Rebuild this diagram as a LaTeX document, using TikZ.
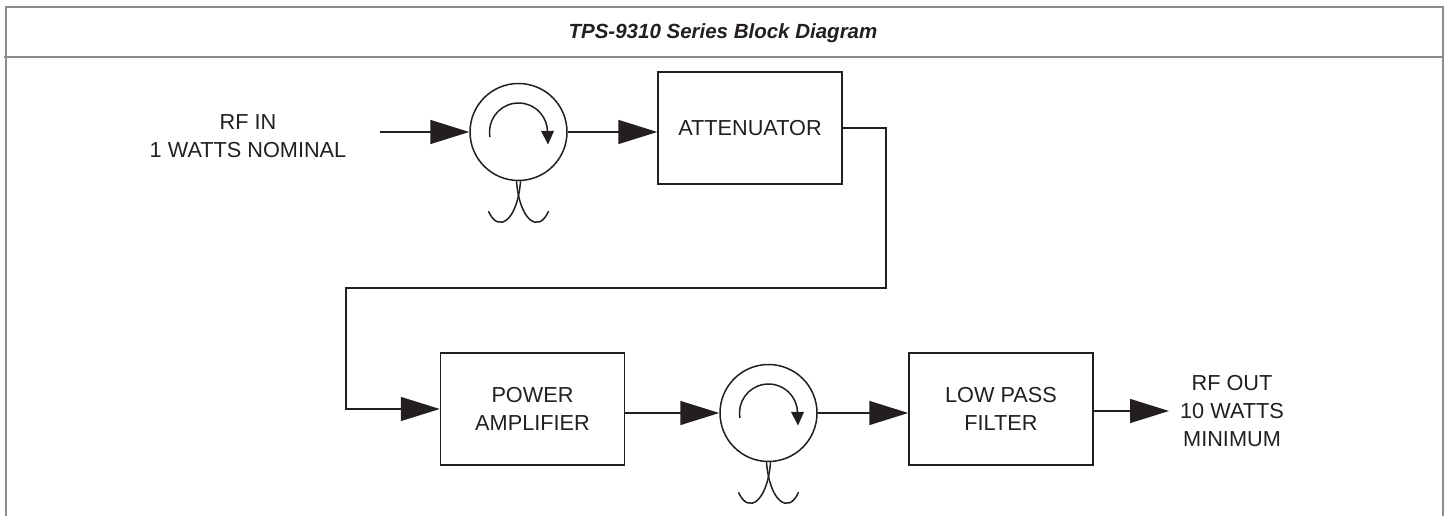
\documentclass[tikz,border=0pt]{standalone}
\usepackage{fontspec}
\setmainfont{Liberation Sans}
\usetikzlibrary{arrows.meta,calc}
\definecolor{ink}{HTML}{231F20}
\definecolor{framegray}{HTML}{8C8C8C}
\newcommand\bodyfont{\fontsize{21.7}{28}\selectfont}
\newcommand\circtail[1]{%
  \draw[ln] ($(#1.south)+(2,0)$) .. controls ($(#1.south)+(-1,-39)$) and ($(#1.south)+(-20,-53)$) .. ($(#1.south)+(-30,-30)$);
  \draw[ln] ($(#1.south)+(-2,0)$) .. controls ($(#1.south)+(1,-39)$) and ($(#1.south)+(20,-53)$) .. ($(#1.south)+(30,-30)$);
  \draw[ln] ($(#1.center)+(190:29)$) arc[start angle=190, end angle=0, radius=29];
  \fill[ink] ($(#1.center)+(22.5,1)$) -- ($(#1.center)+(35.5,1)$) -- ($(#1.center)+(29.5,-12.5)$) -- cycle;
}
\begin{document}
\begin{tikzpicture}[x=1pt,y=1pt,
  ln/.style={line width=1.5pt, draw=ink},
  blk/.style={ln, minimum width=184pt, minimum height=112pt, inner sep=0pt, align=center, font=\bodyfont, text=ink},
  circ/.style={ln, circle, minimum size=97pt, inner sep=0pt},
  big/.style={-{Triangle[length=39pt,width=24pt]}},
  lbl/.style={align=center, font=\bodyfont, inner sep=0pt, text=ink},
  frame/.style={draw=framegray, line width=2pt}]
\useasboundingbox (0,0) rectangle (1447,516);
% frame
\draw[frame] (6,0) -- (6,509) -- (1443,509) -- (1443,0);
\draw[frame] (4,459) -- (1443,459);
\node[anchor=base, inner sep=0pt, text=ink, font=\bfseries\itshape\fontsize{20.5}{24}\selectfont] (title) at (723,477) {TPS-9310 Series Block Diagram};
% nodes
\node[circ] (c1) at (518.5,384) {};
\node[blk] (att) at (750,388) {ATTENUATOR};
\node[blk] (pa) at (532.5,107) {POWER\\AMPLIFIER};
\node[circ] (c2) at (768.5,103) {};
\node[blk] (lpf) at (1001,107) {LOW PASS\\FILTER};
\node[lbl] (rfin) at (248,379.5) {RF IN\\1 WATTS NOMINAL};
\node[lbl] (rfout) at (1232,105) {RF OUT\\10 WATTS\\MINIMUM};
\coordinate (inS) at (380,384);
\coordinate (r1) at (886,228);
\coordinate (r2) at (346,228);
\coordinate (outE) at (1169,105);
% circulator details
\circtail{c1}
\circtail{c2}
% connectors
\draw[ln,big] (inS) -- (c1.west);
\draw[ln,big] (c1.east) -- (att.west |- c1.east);
\draw[ln,big] (att.east) -| (r1) -- (r2) |- (pa.west);
\draw[ln,big] (pa.east |- c2.west) -- (c2.west);
\draw[ln,big] (c2.east) -- (lpf.west |- c2.east);
\draw[ln,big] (lpf.east |- outE) -- (outE);
\end{tikzpicture}
\end{document}
